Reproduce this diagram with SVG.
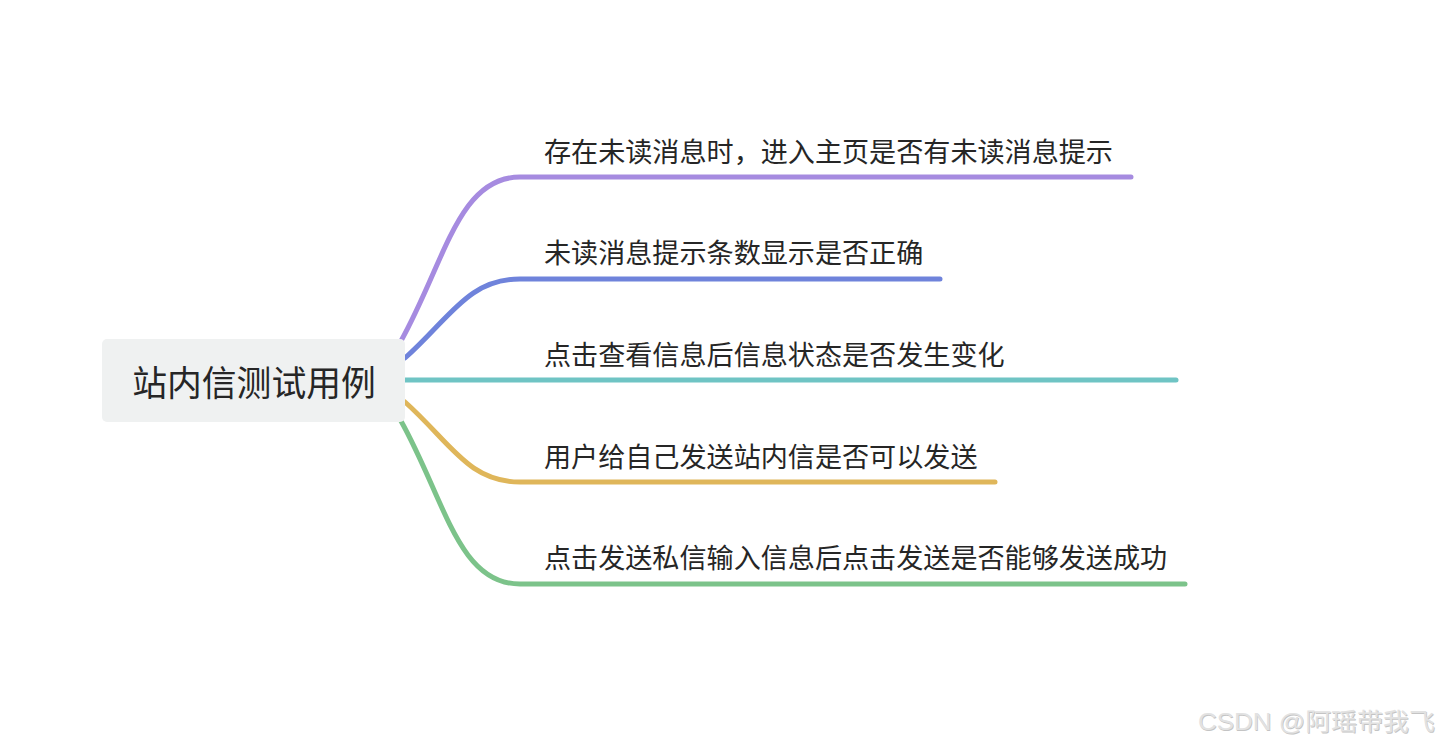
<svg xmlns="http://www.w3.org/2000/svg" width="1440" height="747" viewBox="0 0 1440 747">
<style>
.ln{fill:none;stroke-width:5;stroke-linecap:round}
.t{font-family:"Noto Sans CJK SC","Noto Sans",sans-serif;font-size:27.1px;fill:#262626}
.r{font-family:"Noto Sans CJK SC","Noto Sans",sans-serif;font-size:34.8px;fill:#262626}
.wm{font-family:"Liberation Sans","Noto Sans CJK SC",sans-serif;font-size:24px;font-weight:normal}
</style>
<rect width="1440" height="747" fill="#ffffff"/>
<g id="connectors">
<path class="ln" stroke="#a68be0" d="M401,341 C445,262 458,177 520,177 L1131,177"/>
<path class="ln" stroke="#6f83db" d="M405,358 C450,318 468,279 520,279 L940,279"/>
<path class="ln" stroke="#6fc4c4" d="M405,380 L1176,380"/>
<path class="ln" stroke="#dfb65a" d="M405,402 C450,442 468,482 520,482 L995,482"/>
<path class="ln" stroke="#7cc38a" d="M401,421 C445,500 458,584 520,584 L1185,584"/>
</g>
<g id="root">
<rect x="102" y="339" width="303" height="83" rx="5" fill="#eff1f1"/>
<text class="r" x="254" y="396" text-anchor="middle">站内信测试用例</text>
</g>
<g id="n1"><text class="t" x="544" y="162">存在未读消息时，进入主页是否有未读消息提示</text></g>
<g id="n2"><text class="t" x="544" y="263">未读消息提示条数显示是否正确</text></g>
<g id="n3"><text class="t" x="544" y="365">点击查看信息后信息状态是否发生变化</text></g>
<g id="n4"><text class="t" x="544" y="467">用户给自己发送站内信是否可以发送</text></g>
<g id="n5"><text class="t" x="544" y="568">点击发送私信输入信息后点击发送是否能够发送成功</text></g>
<g id="watermark">
<text class="wm" x="1198.8" y="730.8" fill="#c4c4c4" textLength="237" lengthAdjust="spacingAndGlyphs">CSDN @阿瑶带我飞</text>
<text class="wm" x="1198" y="730" fill="#e2e2e2" textLength="237" lengthAdjust="spacingAndGlyphs">CSDN @阿瑶带我飞</text>
</g>
</svg>
